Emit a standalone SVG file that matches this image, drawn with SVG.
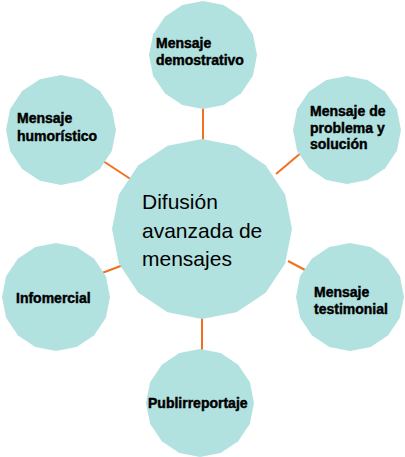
<svg xmlns="http://www.w3.org/2000/svg" xmlns:xlink="http://www.w3.org/1999/xlink" width="405" height="457" viewBox="0 0 405 457">
<style>
.bg{fill:#ffffff}
.poly{fill:#b2e2e0;stroke:none}
.conn{stroke:#f07020;stroke-width:2;fill:none}
.lbl{font-family:"Liberation Sans",Arial,sans-serif;font-weight:bold;font-size:14px;fill:#000;stroke:#000;stroke-width:0.45}
.main{font-family:"Liberation Sans",Arial,sans-serif;font-size:21px;fill:#000}
</style>
<defs>
<polygon id="g16" points="0,-100 38.27,-92.39 70.71,-70.71 92.39,-38.27 100,0 92.39,38.27 70.71,70.71 38.27,92.39 0,100 -38.27,92.39 -70.71,70.71 -92.39,38.27 -100,0 -92.39,-38.27 -70.71,-70.71 -38.27,-92.39"/>
</defs>
<rect class="bg" width="405" height="457"/>
<g id="connectors">
<line class="conn" x1="203" y1="106" x2="203" y2="142"/>
<line class="conn" x1="100" y1="159" x2="132" y2="180"/>
<line class="conn" x1="302" y1="152" x2="276" y2="174"/>
<line class="conn" x1="102" y1="273" x2="126" y2="264"/>
<line class="conn" x1="288" y1="261" x2="307" y2="271"/>
<line class="conn" x1="202" y1="316" x2="202" y2="352"/>
</g>
<g id="center">
<use href="#g16" class="poly" transform="translate(202,229) scale(0.9)"/>
<text class="main" x="142" y="209">Difusión</text>
<text class="main" x="142" y="238">avanzada de</text>
<text class="main" x="142" y="266">mensajes</text>
</g>
<g id="demostrativo">
<use href="#g16" class="poly" transform="translate(203,55) scale(0.54)"/>
<text class="lbl" x="156" y="48">Mensaje</text>
<text class="lbl" x="156" y="65">demostrativo</text>
</g>
<g id="humoristico">
<use href="#g16" class="poly" transform="translate(61,130) scale(0.55)"/>
<text class="lbl" x="17" y="123">Mensaje</text>
<text class="lbl" x="17" y="141">humorístico</text>
</g>
<g id="problema">
<use href="#g16" class="poly" transform="translate(347,130) scale(0.54)"/>
<text class="lbl" x="310" y="116">Mensaje de</text>
<text class="lbl" x="310" y="133">problema y</text>
<text class="lbl" x="310" y="149">solución</text>
</g>
<g id="infomercial">
<use href="#g16" class="poly" transform="translate(56,297) scale(0.54)"/>
<text class="lbl" x="16" y="303">Infomercial</text>
</g>
<g id="testimonial">
<use href="#g16" class="poly" transform="translate(350,297) scale(0.54)"/>
<text class="lbl" x="314" y="297">Mensaje</text>
<text class="lbl" x="314" y="314">testimonial</text>
</g>
<g id="publirreportaje">
<use href="#g16" class="poly" transform="translate(200,403) scale(0.54)"/>
<text class="lbl" x="148" y="408">Publirreportaje</text>
</g>
</svg>
